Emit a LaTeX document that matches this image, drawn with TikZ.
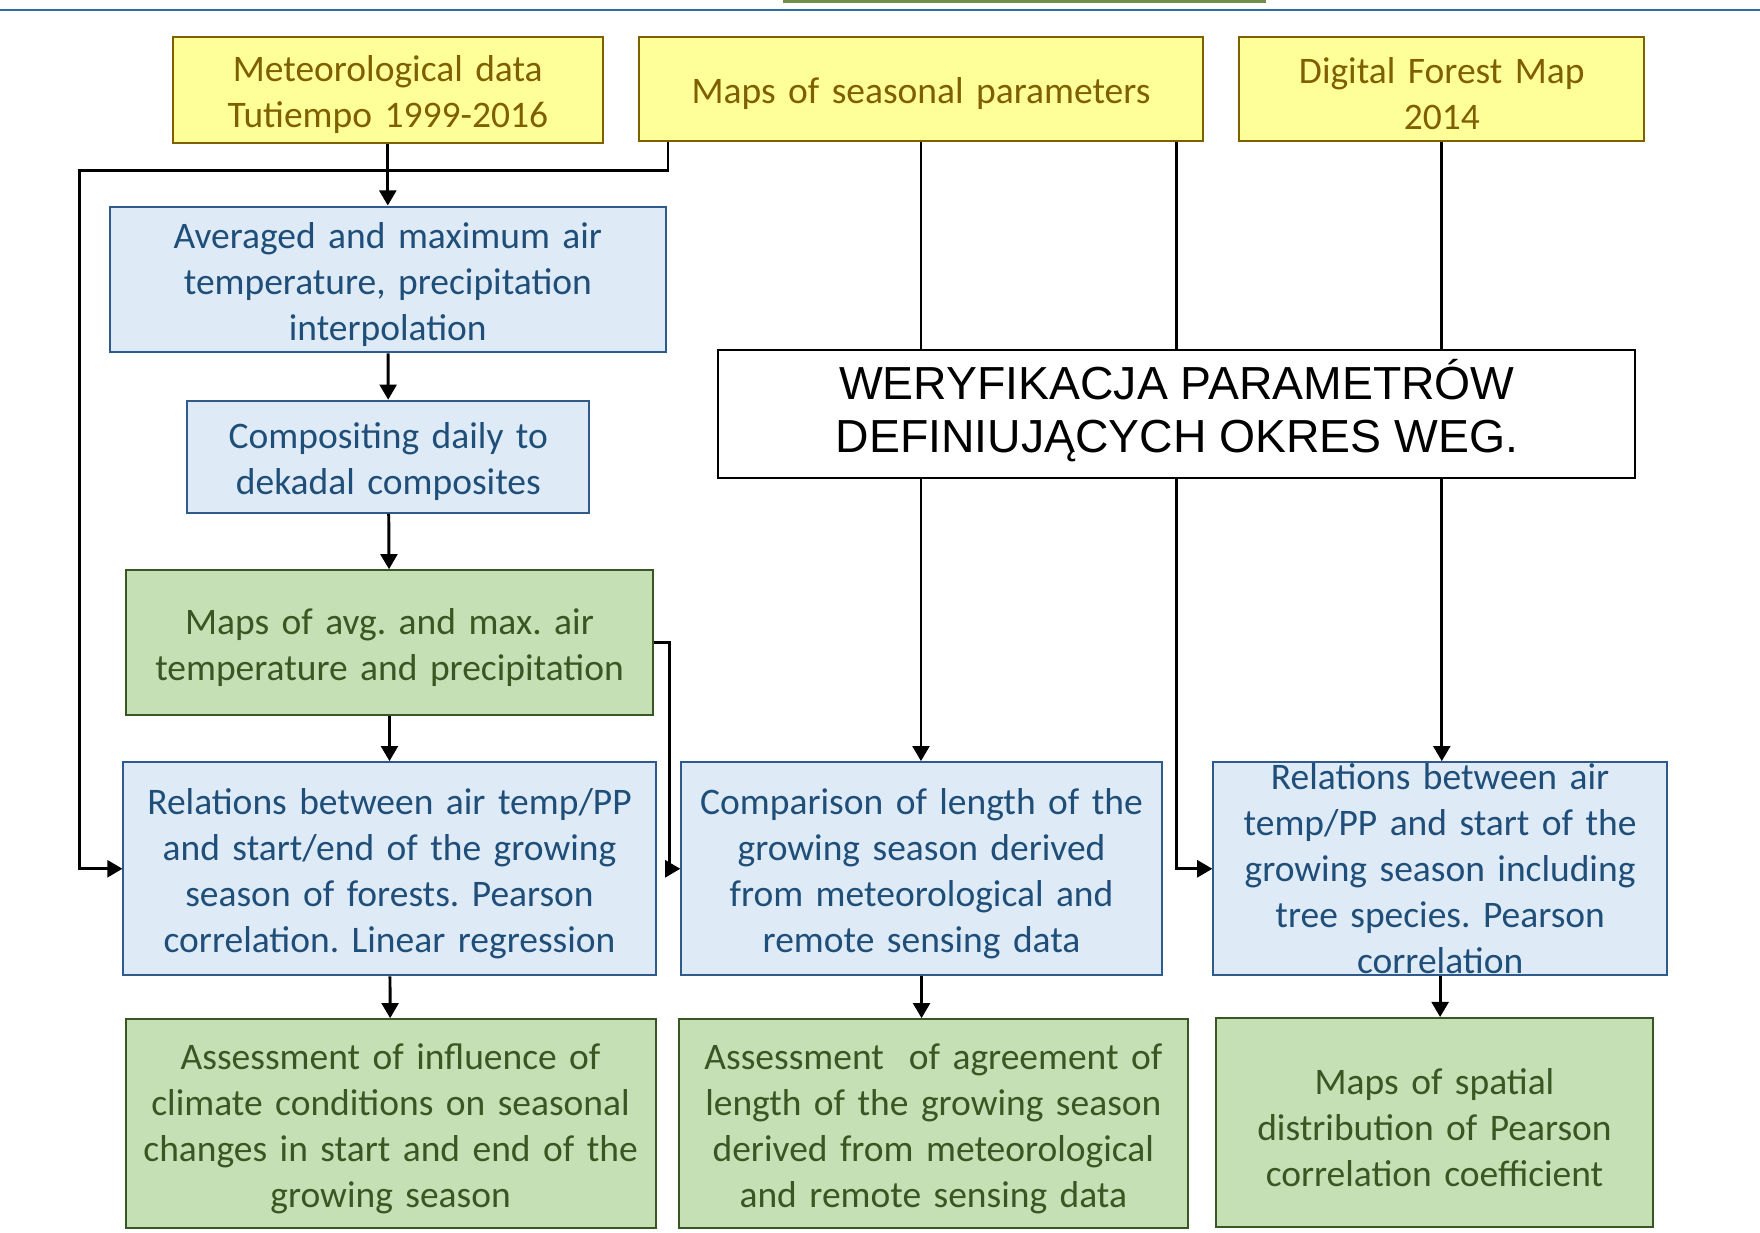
\documentclass[tikz,border=0pt]{standalone}
\usepackage{fontspec}
\setmainfont{Carlito}
\newfontfamily\arialfont{Liberation Sans}
\usetikzlibrary{arrows.meta}
\frenchspacing
\definecolor{yfill}{HTML}{FFFF99}
\definecolor{ydraw}{HTML}{7F6000}
\definecolor{bfill}{HTML}{DEEBF7}
\definecolor{bdraw}{HTML}{2E5A8C}
\definecolor{btext}{HTML}{1F4E79}
\definecolor{gfill}{HTML}{C5E0B4}
\definecolor{gdraw}{HTML}{385723}
\definecolor{topline}{HTML}{2E6DA4}
\definecolor{topbar}{HTML}{6F8F4A}

\begin{document}
\begin{tikzpicture}
    \tikzstyle{frame} = [rectangle, inner sep=0pt, align=center, line width=1pt, font=\fontsize{19pt}{23.3pt}\selectfont]
    \tikzstyle{box} = [frame, execute at begin node={\rule{0pt}{18pt}}]
    \tikzstyle{yellowbox} = [box, draw=ydraw, fill=yfill, text=ydraw]
    \tikzstyle{bluebox} = [box, draw=bdraw, fill=bfill, text=btext]
    \tikzstyle{greenbox} = [box, draw=gdraw, fill=gfill, text=gdraw]
    \tikzstyle{verbox} = [rectangle, draw=black, fill=white, line width=1pt, align=center, execute at end node={\rule[-8.5pt]{0pt}{0pt}}, font=\arialfont\fontsize{23.5pt}{26.7pt}\selectfont]
    \tikzstyle{link} = [draw=black, line width=1.5pt, -{Triangle[length=0.27cm,width=0.3cm]}]
    \useasboundingbox (0,0) rectangle (31.36,21.96);
    % slide header
    \draw[topline, line width=1.3pt] (0,21.78) -- (31.36,21.78);
    \fill[topbar] (13.96,21.96) rectangle (22.56,21.91);
    % input data
    \node[yellowbox, minimum width=7.66cm, minimum height=1.88cm, text width=7.4cm] (met) at (6.91,20.36) {Meteorological data\\Tutiempo 1999-2016};
    \node[yellowbox, minimum width=10.06cm, minimum height=1.86cm, text width=9.8cm] (seas) at (16.41,20.37) {Maps of seasonal parameters};
    \node[yellowbox, minimum width=7.22cm, minimum height=1.86cm, text width=7cm] (dfm) at (25.69,20.37) {Digital Forest Map\\2014};
    % left column
    \node[bluebox, minimum width=9.9cm, minimum height=2.6cm, text width=9.6cm] (avg) at (6.91,16.98) {Averaged and maximum air\\temperature, precipitation\\interpolation};
    \node[bluebox, minimum width=7.16cm, minimum height=2cm, text width=6.9cm] (comp) at (6.92,13.82) {Compositing daily to\\dekadal composites};
    \node[greenbox, minimum width=9.4cm, minimum height=2.58cm, text width=9.2cm] (mapsc) at (6.94,10.51) {Maps of avg. and max. air\\temperature and precipitation};
    % analyses
    \node[bluebox, minimum width=9.48cm, minimum height=3.8cm, text width=9.3cm] (rel1) at (6.94,6.48) {Relations between air temp/PP\\and start/end of the growing\\season of forests. Pearson\\correlation. Linear regression};
    \node[bluebox, minimum width=8.56cm, minimum height=3.8cm, text width=8.3cm] (cmpe) at (16.42,6.48) {Comparison of length of the\\growing season derived\\from meteorological and\\remote sensing data};
    \node[frame, draw=bdraw, fill=bfill, minimum width=8.08cm, minimum height=3.8cm] (rel2) at (25.66,6.48) {};
    \node[frame, text=btext, text width=7.9cm] (rel2txt) at (rel2.center) {Relations between air\\temp/PP and start of the\\growing season including\\tree species. Pearson\\correlation};
    % results
    \node[greenbox, minimum width=9.44cm, minimum height=3.72cm, text width=9.3cm] (assg) at (6.96,1.94) {Assessment of influence of\\climate conditions on seasonal\\changes in start and end of the\\growing season};
    \node[greenbox, minimum width=9.06cm, minimum height=3.72cm, text width=8.9cm] (agrh) at (16.63,1.94) {Assessment\ \ of agreement of\\length of the growing season\\derived from meteorological\\and remote sensing data};
    \node[greenbox, minimum width=7.8cm, minimum height=3.72cm, text width=7.6cm] (mapsi) at (25.56,1.96) {Maps of spatial\\distribution of Pearson\\correlation coefficient};
    % connectors
    \coordinate (bendmet) at (1.42,18.92);
    \draw[link] (met) -- (avg);
    \draw[link] (avg) -- (comp);
    \draw[link] (comp) -- (mapsc);
    \draw[link] (mapsc) -- (rel1);
    \draw[link] (rel1) -- (assg);
    \draw[link] ([xshift=0.54cm]seas.south west) |- (bendmet) |- (rel1.west);
    \draw[link] (mapsc.east) -- ++(0.28,0) |- (cmpe.west);
    \draw[link] (seas.south) -- (seas.south |- cmpe.north);
    \draw[link] ([xshift=-0.5cm]seas.south east) |- (rel2.west);
    \draw[link] (dfm.south) -- (dfm.south |- rel2.north);
    \draw[link] (cmpe.south) -- (cmpe.south |- agrh.north);
    \draw[link] (rel2.south) -- (rel2.south |- mapsi.north);
    % verification box over the lines
    \node[verbox, minimum width=16.34cm, minimum height=2.28cm] (wer) at (20.97,14.58) {WERYFIKACJA PARAMETRÓW\\DEFINIUJĄCYCH OKRES WEG.};
\end{tikzpicture}
\end{document}
